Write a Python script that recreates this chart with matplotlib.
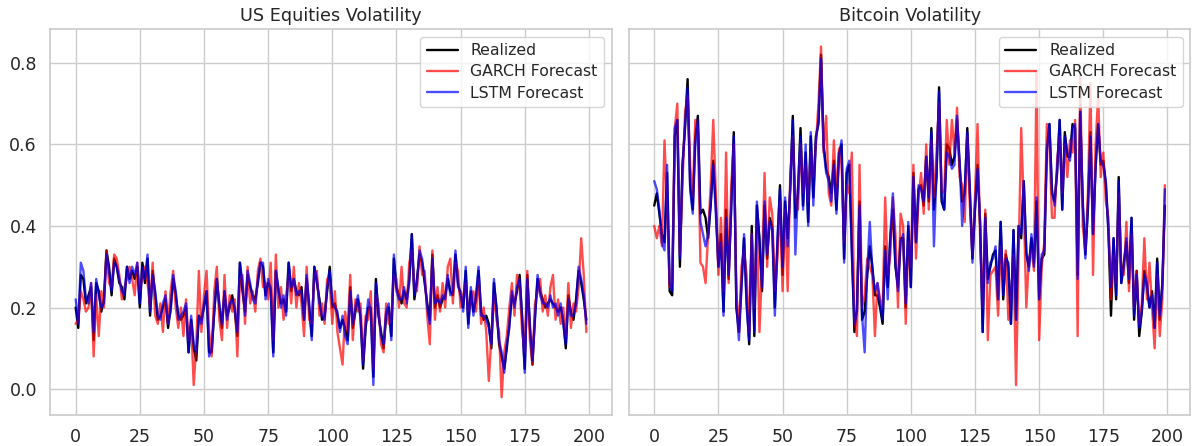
import matplotlib
matplotlib.use("Agg")
import matplotlib.pyplot as plt
import seaborn as sns
import numpy as np

sns.set_theme(style="whitegrid", font_scale=1.15)
plt.rcParams['font.family'] = ['DejaVu Sans']

# US equities: realized / GARCH / LSTM
us_realized = [
    0.20, 0.15, 0.28, 0.27, 0.21, 0.23, 0.25, 0.12, 0.26, 0.24, 0.19, 0.22, 0.34, 0.30, 0.23, 0.32, 0.30, 0.26, 0.25, 0.22,
    0.30, 0.27, 0.29, 0.27, 0.30, 0.20, 0.31, 0.26, 0.32, 0.18, 0.29, 0.23, 0.17, 0.18, 0.20, 0.22, 0.15, 0.20, 0.27, 0.23,
    0.18, 0.17, 0.18, 0.20, 0.09, 0.17, 0.10, 0.07, 0.18, 0.17, 0.20, 0.24, 0.09, 0.09, 0.19, 0.27, 0.20, 0.15, 0.24, 0.18,
    0.20, 0.23, 0.19, 0.13, 0.31, 0.24, 0.19, 0.28, 0.25, 0.23, 0.22, 0.26, 0.31, 0.30, 0.23, 0.26, 0.25, 0.09, 0.29, 0.24,
    0.21, 0.22, 0.19, 0.31, 0.24, 0.27, 0.24, 0.23, 0.25, 0.17, 0.27, 0.20, 0.13, 0.30, 0.26, 0.22, 0.17, 0.18, 0.24, 0.30,
    0.20, 0.21, 0.18, 0.15, 0.17, 0.15, 0.12, 0.25, 0.15, 0.19, 0.22, 0.18, 0.05, 0.15, 0.20, 0.20, 0.03, 0.27, 0.18, 0.14,
    0.10, 0.18, 0.20, 0.13, 0.32, 0.25, 0.23, 0.21, 0.24, 0.22, 0.27, 0.38, 0.22, 0.27, 0.33, 0.31, 0.26, 0.21, 0.17, 0.33,
    0.20, 0.23, 0.20, 0.22, 0.23, 0.27, 0.24, 0.23, 0.33, 0.26, 0.23, 0.20, 0.29, 0.16, 0.24, 0.19, 0.22, 0.29, 0.19, 0.17,
    0.18, 0.16, 0.10, 0.26, 0.20, 0.11, 0.08, 0.05, 0.10, 0.16, 0.23, 0.21, 0.24, 0.28, 0.17, 0.05, 0.28, 0.15, 0.06, 0.18,
    0.27, 0.24, 0.22, 0.20, 0.21, 0.22, 0.21, 0.20, 0.19, 0.20, 0.17, 0.10, 0.23, 0.19, 0.17, 0.22, 0.29, 0.26, 0.22, 0.17,
]
us_garch = [
    0.16, 0.17, 0.24, 0.22, 0.19, 0.20, 0.26, 0.08, 0.23, 0.13, 0.24, 0.20, 0.34, 0.26, 0.25, 0.33, 0.32, 0.28, 0.22, 0.25,
    0.27, 0.30, 0.27, 0.23, 0.31, 0.24, 0.28, 0.30, 0.26, 0.20, 0.31, 0.18, 0.16, 0.21, 0.14, 0.24, 0.16, 0.24, 0.29, 0.20,
    0.15, 0.20, 0.13, 0.22, 0.12, 0.16, 0.01, 0.11, 0.29, 0.14, 0.23, 0.29, 0.14, 0.08, 0.24, 0.30, 0.17, 0.12, 0.28, 0.15,
    0.23, 0.19, 0.22, 0.08, 0.27, 0.28, 0.16, 0.30, 0.21, 0.24, 0.19, 0.29, 0.32, 0.25, 0.26, 0.22, 0.31, 0.12, 0.33, 0.20,
    0.25, 0.17, 0.23, 0.28, 0.21, 0.30, 0.20, 0.26, 0.21, 0.13, 0.30, 0.17, 0.16, 0.28, 0.29, 0.18, 0.21, 0.16, 0.27, 0.26,
    0.16, 0.24, 0.14, 0.10, 0.06, 0.19, 0.14, 0.28, 0.12, 0.22, 0.19, 0.21, 0.07, 0.18, 0.17, 0.24, 0.05, 0.23, 0.21, 0.11,
    0.09, 0.21, 0.16, 0.17, 0.28, 0.27, 0.20, 0.30, 0.21, 0.20, 0.31, 0.34, 0.25, 0.24, 0.35, 0.28, 0.29, 0.18, 0.11, 0.34,
    0.17, 0.25, 0.19, 0.26, 0.20, 0.30, 0.32, 0.21, 0.31, 0.29, 0.20, 0.23, 0.26, 0.19, 0.21, 0.24, 0.19, 0.27, 0.16, 0.20,
    0.14, 0.02, 0.13, 0.23, 0.17, 0.14, -0.02, 0.09, 0.13, 0.20, 0.26, 0.18, 0.28, 0.25, 0.14, 0.09, 0.29, 0.12, 0.06, 0.21,
    0.24, 0.27, 0.19, 0.23, 0.18, 0.25, 0.28, 0.17, 0.22, 0.16, 0.20, 0.13, 0.26, 0.15, 0.21, 0.19, 0.25, 0.37, 0.28, 0.14,
]
us_lstm = [
    0.22, 0.16, 0.31, 0.29, 0.22, 0.21, 0.26, 0.14, 0.27, 0.23, 0.20, 0.21, 0.33, 0.29, 0.24, 0.31, 0.30, 0.27, 0.24, 0.23,
    0.30, 0.26, 0.30, 0.28, 0.31, 0.21, 0.30, 0.27, 0.33, 0.19, 0.28, 0.24, 0.18, 0.17, 0.21, 0.23, 0.16, 0.19, 0.28, 0.24,
    0.17, 0.18, 0.19, 0.21, 0.09, 0.18, 0.11, 0.09, 0.18, 0.16, 0.21, 0.24, 0.08, 0.10, 0.19, 0.27, 0.21, 0.16, 0.24, 0.17,
    0.21, 0.22, 0.20, 0.14, 0.31, 0.26, 0.18, 0.29, 0.26, 0.22, 0.21, 0.27, 0.31, 0.31, 0.22, 0.27, 0.24, 0.08, 0.29, 0.25,
    0.20, 0.23, 0.18, 0.31, 0.25, 0.27, 0.23, 0.24, 0.24, 0.17, 0.28, 0.21, 0.12, 0.30, 0.27, 0.21, 0.18, 0.17, 0.25, 0.29,
    0.21, 0.20, 0.19, 0.14, 0.18, 0.13, 0.11, 0.24, 0.16, 0.20, 0.23, 0.17, 0.06, 0.16, 0.22, 0.19, 0.01, 0.26, 0.19, 0.13,
    0.11, 0.19, 0.21, 0.12, 0.33, 0.24, 0.22, 0.22, 0.25, 0.21, 0.26, 0.38, 0.23, 0.26, 0.34, 0.32, 0.27, 0.20, 0.16, 0.32,
    0.21, 0.22, 0.21, 0.23, 0.22, 0.28, 0.23, 0.24, 0.34, 0.25, 0.24, 0.19, 0.30, 0.15, 0.25, 0.18, 0.23, 0.30, 0.18, 0.18,
    0.17, 0.15, 0.11, 0.27, 0.19, 0.12, 0.09, 0.04, 0.11, 0.15, 0.24, 0.20, 0.25, 0.27, 0.18, 0.04, 0.27, 0.16, 0.07, 0.17,
    0.28, 0.23, 0.21, 0.21, 0.20, 0.23, 0.20, 0.21, 0.18, 0.21, 0.16, 0.11, 0.22, 0.18, 0.18, 0.21, 0.30, 0.27, 0.23, 0.16,
]

# Bitcoin: realized / GARCH / LSTM
btc_realized = [
    0.45, 0.48, 0.43, 0.38, 0.36, 0.53, 0.24, 0.23, 0.62, 0.66, 0.30, 0.55, 0.64, 0.76, 0.50, 0.44, 0.62, 0.67, 0.43, 0.44,
    0.42, 0.37, 0.45, 0.56, 0.45, 0.30, 0.38, 0.19, 0.44, 0.27, 0.45, 0.63, 0.20, 0.14, 0.26, 0.37, 0.22, 0.11, 0.40, 0.13,
    0.45, 0.37, 0.24, 0.45, 0.32, 0.42, 0.40, 0.20, 0.35, 0.50, 0.28, 0.46, 0.37, 0.49, 0.67, 0.42, 0.48, 0.64, 0.45, 0.58,
    0.41, 0.62, 0.47, 0.62, 0.65, 0.82, 0.60, 0.54, 0.52, 0.48, 0.56, 0.44, 0.58, 0.60, 0.32, 0.53, 0.55, 0.35, 0.14, 0.20,
    0.46, 0.17, 0.19, 0.28, 0.35, 0.30, 0.23, 0.23, 0.20, 0.16, 0.35, 0.25, 0.37, 0.44, 0.30, 0.25, 0.37, 0.37, 0.20, 0.40,
    0.25, 0.53, 0.36, 0.49, 0.50, 0.45, 0.57, 0.46, 0.64, 0.44, 0.52, 0.74, 0.46, 0.44, 0.60, 0.59, 0.55, 0.57, 0.66, 0.55,
    0.46, 0.48, 0.64, 0.48, 0.32, 0.44, 0.55, 0.40, 0.14, 0.43, 0.27, 0.30, 0.33, 0.34, 0.22, 0.41, 0.22, 0.33, 0.30, 0.16,
    0.39, 0.17, 0.40, 0.37, 0.51, 0.33, 0.30, 0.37, 0.31, 0.46, 0.22, 0.32, 0.33, 0.59, 0.65, 0.48, 0.46, 0.53, 0.66, 0.44,
    0.63, 0.57, 0.57, 0.65, 0.64, 0.28, 0.68, 0.45, 0.33, 0.44, 0.63, 0.38, 0.55, 0.65, 0.55, 0.56, 0.50, 0.39, 0.18, 0.37,
    0.22, 0.52, 0.26, 0.31, 0.36, 0.26, 0.42, 0.17, 0.29, 0.13, 0.19, 0.29, 0.25, 0.20, 0.24, 0.15, 0.32, 0.17, 0.26, 0.45,
]
btc_garch = [
    0.40, 0.37, 0.40, 0.35, 0.61, 0.45, 0.25, 0.26, 0.64, 0.70, 0.33, 0.50, 0.68, 0.72, 0.55, 0.47, 0.66, 0.64, 0.31, 0.30,
    0.26, 0.38, 0.50, 0.66, 0.48, 0.28, 0.42, 0.24, 0.58, 0.26, 0.50, 0.60, 0.24, 0.14, 0.30, 0.34, 0.28, 0.14, 0.38, 0.20,
    0.41, 0.14, 0.30, 0.53, 0.30, 0.47, 0.43, 0.24, 0.32, 0.46, 0.24, 0.44, 0.24, 0.52, 0.62, 0.47, 0.44, 0.60, 0.48, 0.55,
    0.46, 0.58, 0.52, 0.60, 0.70, 0.84, 0.58, 0.67, 0.48, 0.45, 0.61, 0.47, 0.59, 0.55, 0.36, 0.50, 0.48, 0.58, 0.17, 0.13,
    0.55, 0.20, 0.23, 0.32, 0.30, 0.28, 0.13, 0.26, 0.22, 0.20, 0.47, 0.28, 0.33, 0.47, 0.38, 0.20, 0.43, 0.40, 0.16, 0.36,
    0.30, 0.55, 0.32, 0.47, 0.53, 0.43, 0.60, 0.44, 0.61, 0.47, 0.58, 0.70, 0.49, 0.48, 0.66, 0.55, 0.66, 0.58, 0.69, 0.52,
    0.50, 0.41, 0.62, 0.45, 0.33, 0.47, 0.65, 0.37, 0.20, 0.44, 0.12, 0.28, 0.29, 0.30, 0.18, 0.35, 0.27, 0.34, 0.17, 0.22,
    0.33, 0.01, 0.32, 0.64, 0.45, 0.20, 0.32, 0.34, 0.29, 0.78, 0.12, 0.30, 0.36, 0.65, 0.60, 0.42, 0.42, 0.56, 0.62, 0.48,
    0.60, 0.52, 0.61, 0.58, 0.66, 0.13, 0.77, 0.40, 0.34, 0.48, 0.75, 0.28, 0.60, 0.72, 0.52, 0.58, 0.46, 0.42, 0.22, 0.33,
    0.26, 0.48, 0.30, 0.28, 0.41, 0.24, 0.38, 0.20, 0.29, 0.16, 0.21, 0.37, 0.22, 0.31, 0.20, 0.10, 0.28, 0.13, 0.22, 0.50,
]
btc_lstm = [
    0.51, 0.49, 0.44, 0.36, 0.34, 0.55, 0.26, 0.24, 0.64, 0.66, 0.32, 0.54, 0.65, 0.74, 0.49, 0.43, 0.60, 0.66, 0.41, 0.38,
    0.35, 0.38, 0.46, 0.55, 0.43, 0.30, 0.36, 0.18, 0.42, 0.28, 0.44, 0.62, 0.21, 0.12, 0.25, 0.38, 0.20, 0.12, 0.38, 0.14,
    0.46, 0.36, 0.25, 0.46, 0.33, 0.41, 0.39, 0.18, 0.37, 0.49, 0.30, 0.47, 0.35, 0.50, 0.66, 0.33, 0.49, 0.62, 0.44, 0.60,
    0.40, 0.63, 0.45, 0.61, 0.66, 0.81, 0.59, 0.53, 0.51, 0.46, 0.55, 0.43, 0.57, 0.61, 0.31, 0.54, 0.56, 0.33, 0.16, 0.19,
    0.45, 0.18, 0.09, 0.29, 0.41, 0.29, 0.24, 0.26, 0.21, 0.17, 0.34, 0.22, 0.38, 0.48, 0.31, 0.24, 0.36, 0.38, 0.21, 0.41,
    0.25, 0.52, 0.36, 0.50, 0.49, 0.46, 0.57, 0.47, 0.63, 0.35, 0.53, 0.73, 0.47, 0.44, 0.58, 0.57, 0.54, 0.55, 0.67, 0.56,
    0.40, 0.49, 0.63, 0.49, 0.31, 0.45, 0.54, 0.41, 0.14, 0.42, 0.26, 0.31, 0.32, 0.35, 0.22, 0.41, 0.23, 0.32, 0.31, 0.16,
    0.39, 0.17, 0.40, 0.38, 0.51, 0.34, 0.29, 0.38, 0.30, 0.47, 0.22, 0.33, 0.34, 0.58, 0.65, 0.49, 0.45, 0.54, 0.66, 0.44,
    0.62, 0.58, 0.56, 0.64, 0.65, 0.27, 0.68, 0.46, 0.32, 0.45, 0.62, 0.38, 0.54, 0.65, 0.56, 0.55, 0.51, 0.38, 0.25, 0.37,
    0.23, 0.51, 0.26, 0.30, 0.37, 0.27, 0.42, 0.18, 0.28, 0.15, 0.19, 0.28, 0.26, 0.20, 0.23, 0.15, 0.31, 0.18, 0.25, 0.49,
]

panels = [
    ("US Equities Volatility", us_realized, us_garch, us_lstm),
    ("Bitcoin Volatility", btc_realized, btc_garch, btc_lstm),
]

fig, axes = plt.subplots(1, 2, figsize=(11.94, 4.46), dpi=100, sharey=True)
fig.subplots_adjust(left=0.042, right=0.997, bottom=0.070, top=0.935, wspace=0.030)

for ax, (title, realized, garch, lstm) in zip(axes, panels):
    assert len(realized) == len(garch) == len(lstm) == 200
    t = np.arange(len(realized))
    ax.plot(t, realized, color="black", linewidth=1.7, label="Realized")
    ax.plot(t, garch, color="red", alpha=0.7, linewidth=1.7, label="GARCH Forecast")
    ax.plot(t, lstm, color="blue", alpha=0.7, linewidth=1.7, label="LSTM Forecast")
    ax.set_title(title, fontsize=12.7)
    ax.tick_params(labelsize=12.5)
    ax.legend(loc="upper right", fontsize=11.3, handlelength=2.0, labelspacing=0.4)

plt.savefig("out.png")
